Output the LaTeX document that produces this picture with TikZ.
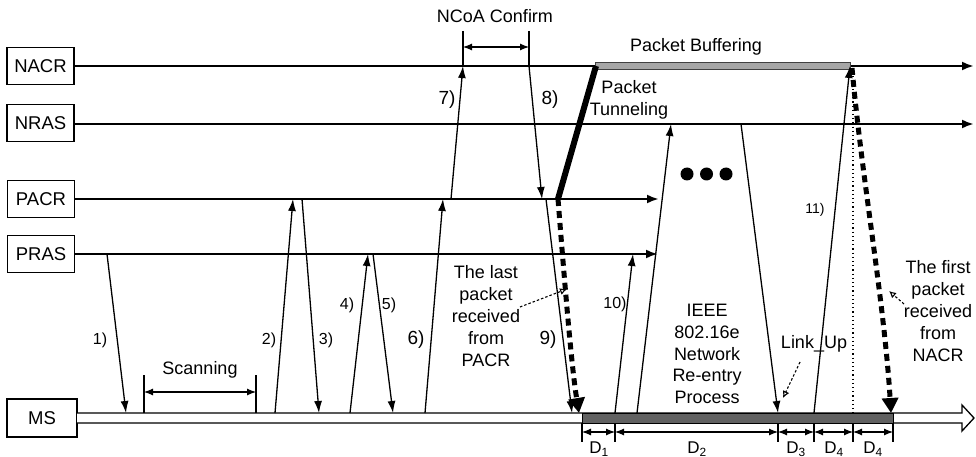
\documentclass[tikz,border=0pt]{standalone}
\usepackage{fontspec}
\setmainfont{Liberation Sans}
\usetikzlibrary{arrows.meta}
\begin{document}
\begin{tikzpicture}[x=1pt,y=-1pt,
  ent/.style={draw, line width=1.1pt, minimum width=67pt, minimum height=37pt, inner sep=0pt, font=\fontsize{18.5}{20}\selectfont},
  lifearr/.style={line width=2.4pt, -{Latex[length=12pt,width=9pt]}},
  msg/.style={line width=1.3pt, -{Latex[length=12pt,width=8pt]}},
  lbl/.style={font=\fontsize{16}{18}\selectfont, inner sep=0pt},
  lblbig/.style={font=\fontsize{19}{20}\selectfont, inner sep=0pt},
  lblsmall/.style={font=\fontsize{14}{16}\selectfont, inner sep=0pt},
  txt/.style={font=\fontsize{18}{21.8}\selectfont, align=center, inner sep=0pt},
  bigdash/.style={line width=5pt, dash pattern=on 7pt off 5pt, -{Triangle[length=15pt,width=16pt]}},
  ptr/.style={line width=1.1pt, dash pattern=on 2.5pt off 2pt, -{Latex[open,length=7pt,width=7pt]}},
  dim/.style={line width=1.1pt, {Latex[length=9pt,width=7pt]}-{Latex[length=9pt,width=7pt]}},
  tickline/.style={line width=1.2pt}]
\useasboundingbox (0,0) rectangle (976,457);

% entities
\node[ent] (nacr) at (40.5,66) {NACR};
\node[ent] (nras) at (40.5,123) {NRAS};
\node[ent] (pacr) at (41,199) {PACR};
\node[ent] (pras) at (41,254) {PRAS};
\node[ent, minimum width=70pt, minimum height=38pt] (ms) at (42,418) {MS};

% lifeline ends
\coordinate (nacrE) at (974,66);
\coordinate (nrasE) at (974,124);
\coordinate (pacrE) at (659,199);
\coordinate (prasE) at (658,254);

\draw[lifearr] (nacr.east |- 0,66) -- (nacrE);
\draw[lifearr] (nras.east |- 0,124) -- (nrasE);
\draw[lifearr] (pacr.east |- 0,199) -- (pacrE);
\draw[lifearr] (pras.east |- 0,254) -- (prasE);

% MS hollow arrow
\coordinate (msA) at (77,413);
\coordinate (msB) at (77,423);
\draw[line width=1.3pt, fill=white, line join=miter] (msA) -- (962,413) -- (962,405) -- (974,418) -- (962,431) -- (962,423) -- (msB);

% buffering bar and MS bar
\draw[line width=0.8pt, fill=black!35, draw=black!75] (595,62.5) rectangle (850,69.5);
\draw[line width=0.8pt, fill=black!62, draw=black] (582,413) rectangle (893,423);

% NCoA Confirm
\coordinate (nc1t) at (463,31); \coordinate (nc1b) at (463,66);
\coordinate (nc2t) at (529,31); \coordinate (nc2b) at (529,66);
\draw[tickline] (nc1t) -- (nc1b);
\draw[tickline] (nc2t) -- (nc2b);
\draw[dim] (463,47) -- (529,47);
\node[txt] (ncoa) at (495,16) {NCoA Confirm};

% Scanning
\draw[tickline] (144,375) -- (144,413);
\draw[tickline] (256,375) -- (256,413);
\draw[dim] (144,392) -- (256,392);
\node[txt] (scan) at (200,370) {Scanning};

% messages
\coordinate (m1s) at (107,254);  \coordinate (m1e) at (126,413);
\coordinate (m2s) at (275,413);  \coordinate (m2e) at (293,199);
\coordinate (m3s) at (302,199);  \coordinate (m3e) at (319,413);
\coordinate (m4s) at (350,413);  \coordinate (m4e) at (368,254);
\coordinate (m5s) at (373,254);  \coordinate (m5e) at (393,413);
\coordinate (m6s) at (425,413);  \coordinate (m6e) at (443,199);
\coordinate (m7s) at (451,199);  \coordinate (m7e) at (463,66);
\coordinate (m8s) at (529,66);   \coordinate (m8e) at (542,199);
\coordinate (m9s) at (546,199);  \coordinate (m9e) at (572,413);
\coordinate (m10s) at (615,413); \coordinate (m10e) at (633,254);
\coordinate (maS) at (637,413);  \coordinate (maE) at (671,124);
\coordinate (mbS) at (741,124);  \coordinate (mbE) at (778,413);
\coordinate (m11s) at (814,413); \coordinate (m11e) at (850,66);

\draw[msg] (m1s) -- (m1e);
\draw[msg] (m2s) -- (m2e);
\draw[msg] (m3s) -- (m3e);
\draw[msg] (m4s) -- (m4e);
\draw[msg] (m5s) -- (m5e);
\draw[msg] (m6s) -- (m6e);
\draw[msg] (m7s) -- (m7e);
\draw[msg] (m8s) -- (m8e);
\draw[msg] (m9s) -- (m9e);
\draw[msg] (m10s) -- (m10e);
\draw[msg] (maS) -- (maE);
\draw[msg] (mbS) -- (mbE);
\draw[msg] (m11s) -- (m11e);

\node[lbl] (l1) at (100,340) {1)};
\node[lbl] (l2) at (269,340) {2)};
\node[lbl] (l3) at (326,340) {3)};
\node[lbl] (l4) at (347,305) {4)};
\node[lbl] (l5) at (389,305) {5)};
\node[lblbig] (l6) at (416,340) {6)};
\node[lblbig] (l7) at (447,100) {7)};
\node[lblbig] (l8) at (550,100) {8)};
\node[lblbig] (l9) at (548,340) {9)};
\node[lbl] (l10) at (615,304) {10)};
\node[lblsmall] (l11) at (815,210) {11)};

% packet tunneling
\coordinate (tunA) at (558,199);
\coordinate (tunB) at (596,66);
\draw[line width=6pt] (tunA) -- (tunB);
\node[txt] (tuntxt) at (629,100) {Packet\\Tunneling};
\node[txt] (buftxt) at (696,47) {Packet Buffering};

% thick dashed packet flows
\coordinate (lastE) at (579,413);
\draw[bigdash] (tunA) .. controls (566,300) and (572,370) .. (lastE);
\coordinate (firstS) at (852,68);
\coordinate (firstE) at (891,413);
\draw[bigdash] (firstS) .. controls (862,180) and (884,300) .. (firstE);

% dotted line
\coordinate (dotT) at (853,72);
\coordinate (dotB) at (853,413);
\draw[line width=1.4pt, dash pattern=on 1.2pt off 3pt] (dotT) -- (dotB);

% dots
\fill (687,174) circle (6.5);
\fill (706.5,174) circle (6.5);
\fill (726,174) circle (6.5);

% texts
\node[txt] (lasttxt) at (486,316) {The last\\packet\\received\\from\\PACR};
\coordinate (lastP) at (567,289);
\draw[ptr] (520,307) -- (lastP);
\node[txt] (firsttxt) at (938,311) {The first\\packet\\received\\from\\NACR};
\coordinate (firstP) at (889,291);
\draw[ptr] (904,304) -- (firstP);
\node[txt] (ieee) at (707,354) {IEEE\\802.16e\\Network\\Re-entry\\Process};
\node[txt] (linkup) at (814,344) {Link\_Up};
\coordinate (linkP) at (783,398);
\draw[ptr] (800,362) -- (linkP);

% D dimension marks
\foreach \xx in {582,615,778,814,853,893} { \draw[tickline] (\xx,423) -- (\xx,442); }
\draw[dim] (582,432) -- (615,432);
\draw[dim] (615,432) -- (778,432);
\draw[dim] (778,432) -- (814,432);
\draw[dim] (814,432) -- (853,432);
\draw[dim] (853,432) -- (893,432);
\node[lbl, font=\fontsize{17}{18}\selectfont] (d1) at (599,449) {D\textsubscript{1}};
\node[lbl, font=\fontsize{17}{18}\selectfont] (d2) at (697,449) {D\textsubscript{2}};
\node[lbl, font=\fontsize{17}{18}\selectfont] (d3) at (796,449) {D\textsubscript{3}};
\node[lbl, font=\fontsize{17}{18}\selectfont] (d4) at (834,449) {D\textsubscript{4}};
\node[lbl, font=\fontsize{17}{18}\selectfont] (d5) at (873,449) {D\textsubscript{4}};
\end{tikzpicture}
\end{document}
